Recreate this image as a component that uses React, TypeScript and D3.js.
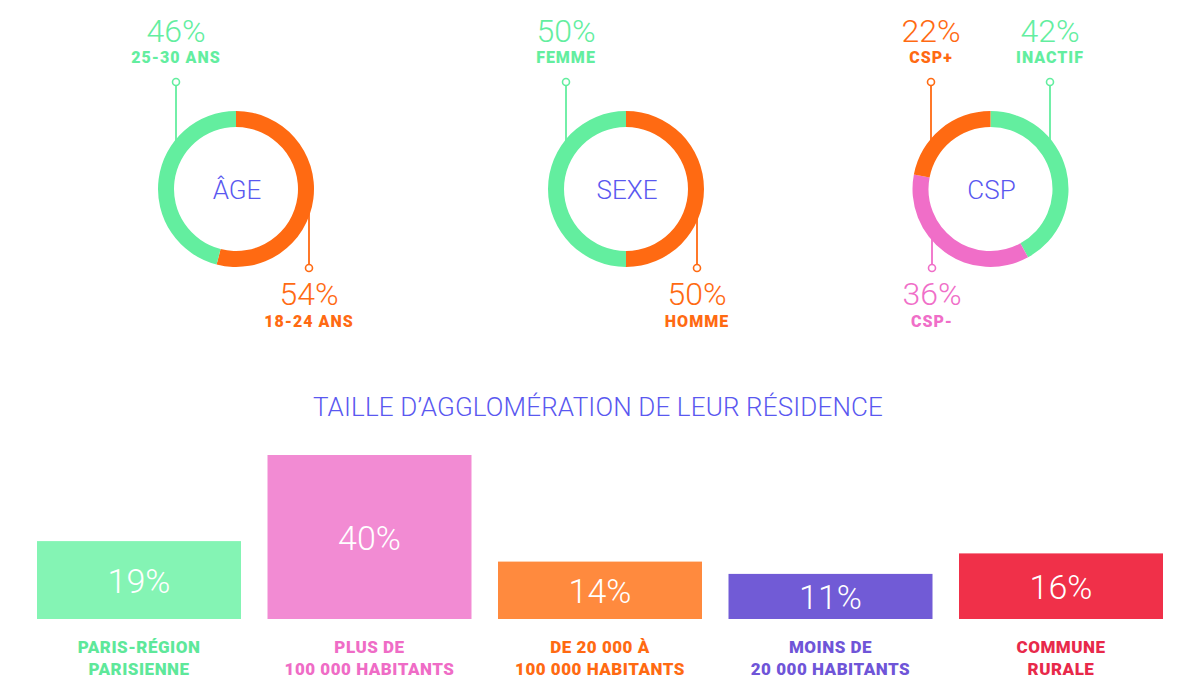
import React from "react";
import * as d3 from "d3";

// ---------- DATA ----------
const ageLabels = ["18-24 ANS", "25-30 ANS"];
const ageValues = [54, 46];
const sexeLabels = ["HOMME", "FEMME"];
const sexeValues = [50, 50];
const cspLabels = ["INACTIF", "CSP-", "CSP+"];
const cspValues = [42, 36, 22];

const barLine1 = ["PARIS-RÉGION", "PLUS DE", "DE 20 000 À", "MOINS DE", "COMMUNE"];
const barLine2 = ["PARISIENNE", "100 000 HABITANTS", "100 000 HABITANTS", "20 000 HABITANTS", "RURALE"];
const barValues = [19, 40, 14, 11, 16];

// ---------- STYLE ----------
const GREEN = "#63ee9f";
const ORANGE = "#ff6a12";
const PINK = "#f06ec8";
const BLUE = "#5a58f0";

const barFill = ["#84f4b4", "#f28bd3", "#ff8a3e", "#715bd6", "#f03049"];
const barText = ["#5ee89a", "#ef6cc6", "#ff6a12", "#6f55d8", "#e8294a"];

const THIN = "Roboto, 'Open Sans', sans-serif";

type Leader = { side: "top" | "bottom"; dx: number };

const donuts = [
  { title: "ÂGE", cx: 236, labels: ageLabels, values: ageValues, colors: [ORANGE, GREEN],
    leaders: [{ side: "bottom", dx: 73 }, { side: "top", dx: -60 }] as Leader[] },
  { title: "SEXE", cx: 626, labels: sexeLabels, values: sexeValues, colors: [ORANGE, GREEN],
    leaders: [{ side: "bottom", dx: 71 }, { side: "top", dx: -60 }] as Leader[] },
  { title: "CSP", cx: 990.5, labels: cspLabels, values: cspValues, colors: [GREEN, PINK, ORANGE],
    leaders: [{ side: "top", dx: 59.5 }, { side: "bottom", dx: -58.5 }, { side: "top", dx: -59.5 }] as Leader[] },
];

const CY = 189;
const R_OUT = 78;
const R_IN = 62;

function Donut({ d }: { d: (typeof donuts)[number] }) {
  const pie = d3.pie<number>().sort(null).value((v) => v);
  const arcs = pie(d.values);
  const arc = d3.arc<d3.PieArcDatum<number>>().innerRadius(R_IN).outerRadius(R_OUT);
  return (
    <g>
      <g transform={`translate(${d.cx},${CY})`}>
        {arcs.map((a, i) => (
          <path key={i} d={arc(a) || ""} fill={d.colors[i]} />
        ))}
        <text x={1} y={10} textAnchor="middle" fontFamily={THIN} fontWeight={300} fontSize={26} fill={BLUE}>
          {d.title}
        </text>
      </g>
      {d.leaders.map((l, i) => {
        const x = d.cx + l.dx;
        const ringY = Math.sqrt(R_OUT * R_OUT - l.dx * l.dx);
        const color = d.colors[i];
        if (l.side === "top") {
          const cyc = CY - 107;
          return (
            <g key={i}>
              <line x1={x} x2={x} y1={cyc + 3.5} y2={CY - ringY + 4} stroke={color} strokeWidth={1.8} />
              <circle cx={x} cy={cyc} r={3.5} fill="#fff" stroke={color} strokeWidth={1.6} />
              <text x={x} y={42} textAnchor="middle" fontFamily={THIN} fontWeight={300} fontSize={32} fill={color}>
                {d.values[i]}%
              </text>
              <text x={x} y={63} textAnchor="middle" fontFamily={THIN} fontWeight={900} fontSize={16} letterSpacing={1} fill={color}>
                {d.labels[i]}
              </text>
            </g>
          );
        }
        const cyc = CY + 79;
        return (
          <g key={i}>
            <line x1={x} x2={x} y1={CY + ringY - 4} y2={cyc - 3.5} stroke={color} strokeWidth={1.8} />
            <circle cx={x} cy={cyc} r={3.5} fill="#fff" stroke={color} strokeWidth={1.6} />
            <text x={x} y={305} textAnchor="middle" fontFamily={THIN} fontWeight={300} fontSize={32} fill={color}>
              {d.values[i]}%
            </text>
            <text x={x} y={327} textAnchor="middle" fontFamily={THIN} fontWeight={900} fontSize={16} letterSpacing={1} fill={color}>
              {d.labels[i]}
            </text>
          </g>
        );
      })}
    </g>
  );
}

export default function App() {
  const x = d3.scaleBand<number>().domain(d3.range(barValues.length)).range([37, 1163]).paddingInner(0.115).paddingOuter(0);
  const y = d3.scaleLinear().domain([0, 40]).range([619, 455]);
  return (
    <svg width={1200} height={693} style={{ position: "absolute", left: 0, top: 0, background: "#fff" }}>
      {donuts.map((d, i) => (
        <Donut key={i} d={d} />
      ))}
      <text x={598} y={416} textAnchor="middle" fontFamily={THIN} fontWeight={300} fontSize={26} letterSpacing={0.15} fill={BLUE}>
        TAILLE D’AGGLOMÉRATION DE LEUR RÉSIDENCE
      </text>
      {barValues.map((v, i) => {
        const bx = x(i)!;
        const bw = x.bandwidth();
        const top = y(v);
        const bottom = y(0);
        const cx = bx + bw / 2;
        return (
          <g key={i}>
            <rect x={bx} y={top} width={bw} height={bottom - top} fill={barFill[i]} />
            <text x={cx} y={(top + bottom) / 2 + 13} textAnchor="middle" fontFamily={THIN} fontWeight={300} fontSize={34} fill="#fff">
              {v}%
            </text>
            <text x={cx} y={653} textAnchor="middle" fontFamily={THIN} fontWeight={900} fontSize={17} letterSpacing={0.5} fill={barText[i]}>
              {barLine1[i]}
            </text>
            <text x={cx} y={675} textAnchor="middle" fontFamily={THIN} fontWeight={900} fontSize={17} letterSpacing={0.5} fill={barText[i]}>
              {barLine2[i]}
            </text>
          </g>
        );
      })}
    </svg>
  );
}
